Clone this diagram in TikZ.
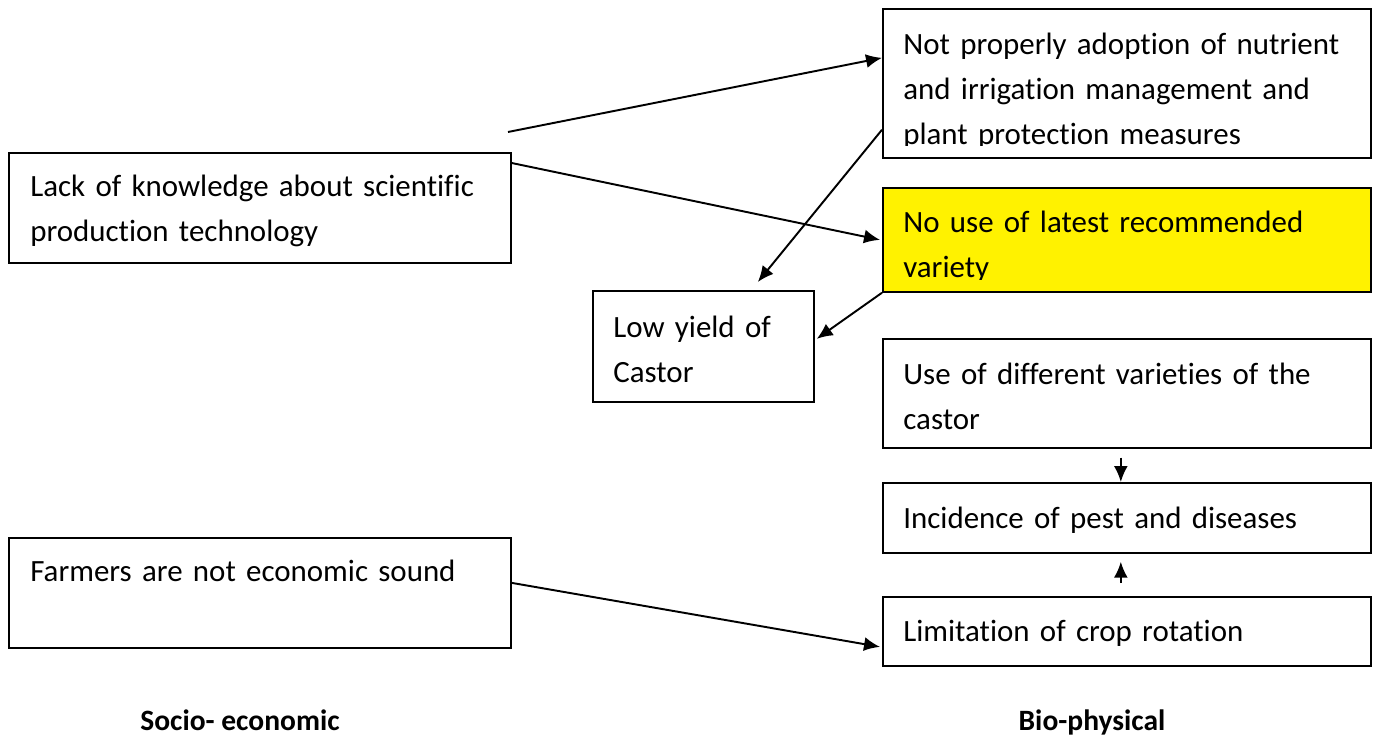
\documentclass[tikz,border=0pt]{standalone}
\usepackage{fontspec}
\setmainfont{Carlito}[Ligatures=NoCommon]
\usetikzlibrary{arrows.meta,positioning}
\tikzset{
  frame/.style={draw, line width=1pt, inner sep=0pt, anchor=north west},
  txt/.style={anchor=base west, inner sep=0pt, text width=10cm, align=left,
    font=\fontsize{17.6}{25.6}\selectfont},
  conn/.style={-{Latex[length=0.32cm,width=0.28cm]}, line width=1.1pt},
  side/.style={anchor=base, inner sep=0pt, font=\fontsize{16.8}{18}\selectfont\bfseries}
}

\begin{document}
\begin{tikzpicture}[x=0.02cm,y=-0.02cm]
	\useasboundingbox (0,0) rectangle (1379,742);
	
	% Boxes
	\node[frame, minimum width=10.04cm, minimum height=2.2cm] (lack) at (8,152) {};
	\node[frame, minimum width=10.04cm, minimum height=2.2cm] (farm) at (8,537) {};
	\node[frame, minimum width=9.76cm, minimum height=2.98cm] (adopt) at (882,8) {};
	\node[frame, fill=yellow, minimum width=9.76cm, minimum height=2.08cm] (variety) at (882,187) {};
	\node[frame, minimum width=4.42cm, minimum height=2.22cm] (yield) at (592,290) {};
	\node[frame, minimum width=9.76cm, minimum height=2.18cm] (diff) at (882,338) {};
	\node[frame, minimum width=9.76cm, minimum height=1.4cm] (pest) at (882,482) {};
	\node[frame, minimum width=9.76cm, minimum height=1.38cm] (rot) at (882,596) {};
	
	% Texts
	\node[txt] (lack-t) at (30,197) {Lack of knowledge about scientific\\production technology};
	\node[txt] (farm-t) at (30,582) {Farmers are not economic sound};
	\begin{scope}
	\clip (882,8) rectangle (1370,146);
	\node[txt] (adopt-t) at (903,55) {Not properly adoption of nutrient\\and irrigation management and\\plant protection measures};
	\end{scope}
	\begin{scope}
	\clip (882,187) rectangle (1370,280);
	\node[txt] (variety-t) at (903,233) {No use of latest recommended\\variety};
	\end{scope}
	\node[txt, text width=4cm] (yield-t) at (613,338) {Low yield of\\Castor};
	\node[txt] (diff-t) at (903,385) {Use of different varieties of the\\castor};
	\node[txt] (pest-t) at (903,529) {Incidence of pest and diseases};
	\node[txt] (rot-t) at (903,642) {Limitation of crop rotation};
	
	\node[side] (socio) at (240,730) {Socio- economic};
	\node[side] (bio) at (1092,730) {Bio-physical};
	
	% Arrows
	\coordinate (free) at (508,132);
	\draw[conn] (free) -- ([yshift=0.51cm]adopt.west);
	\draw[conn] ([yshift=-0.22cm]lack.north east) -- ([xshift=-0.04cm]variety.west);
	\draw[conn] ([yshift=0.58cm]adopt.south west) -- ([xshift=1.09cm,yshift=0.16cm]yield.north);
	\draw[conn] (variety.south west) -- ([xshift=0.04cm,yshift=0.15cm]yield.east);
	\draw[conn] ([xshift=-0.12cm,yshift=-0.18cm]diff.south) -- ([xshift=-0.12cm]pest.north);
	\draw[conn] ([xshift=-0.12cm,yshift=0.26cm]rot.north) -- ([xshift=-0.12cm,yshift=-0.16cm]pest.south);
	\draw[conn] ([yshift=0.2cm]farm.east) -- ([xshift=-0.04cm,yshift=-0.31cm]rot.west);
\end{tikzpicture}
\end{document}
